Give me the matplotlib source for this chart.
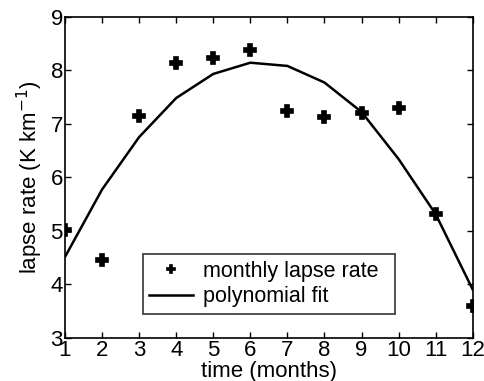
import numpy as np
import matplotlib.pyplot as plt

plt.rcParams['font.family'] = ['Liberation Sans', 'DejaVu Sans']

months = np.arange(1, 13)
lapse_rate = [5.01, 4.45, 7.14, 8.13, 8.23, 8.38, 7.24, 7.12, 7.20, 7.29, 5.31, 3.59]
poly_fit = [4.51, 5.77, 6.75, 7.48, 7.93, 8.14, 8.08, 7.77, 7.22, 6.34, 5.31, 3.90]

fig = plt.figure(figsize=(4.84, 3.81), dpi=100)
ax = fig.add_axes([65 / 484, 1 - 337.7 / 381, (472.7 - 65) / 484, (337.7 - 16.7) / 381])

ax.plot(months, lapse_rate, linestyle='none', marker='P', ms=8, color='black',
        markeredgewidth=1.2, label='monthly lapse rate')
ax.plot(months, poly_fit, color='black', lw=1.8, label='polynomial fit')

ax.set_xlim(1, 12)
ax.set_ylim(3, 9)
ax.set_xticks(months)
ax.set_yticks(np.arange(3, 10))
ax.tick_params(direction='in', top=True, right=True, labelsize=16, length=4, width=1, pad=1.5)
for s in ax.spines.values():
    s.set_linewidth(1.2)

ax.set_xlabel('time (months)', fontsize=16, labelpad=0)
ax.set_ylabel('lapse rate (K km$^{-1}$)', fontsize=16, labelpad=4)

leg = ax.legend(loc='lower left', bbox_to_anchor=((143 - 65) / 407.7, (337.7 - 313.5) / 321, (395 - 143) / 407.7, (313.5 - 259.5) / 321),
                mode='expand', fontsize=15.5, frameon=True, fancybox=False, borderaxespad=0,
                handlelength=2.0, handletextpad=0.5, labelspacing=0.2, borderpad=0.3,
                markerscale=0.8)
leg.get_frame().set_edgecolor('black')
leg.get_frame().set_linewidth(1.2)

fig.savefig('out.png', dpi=100)
